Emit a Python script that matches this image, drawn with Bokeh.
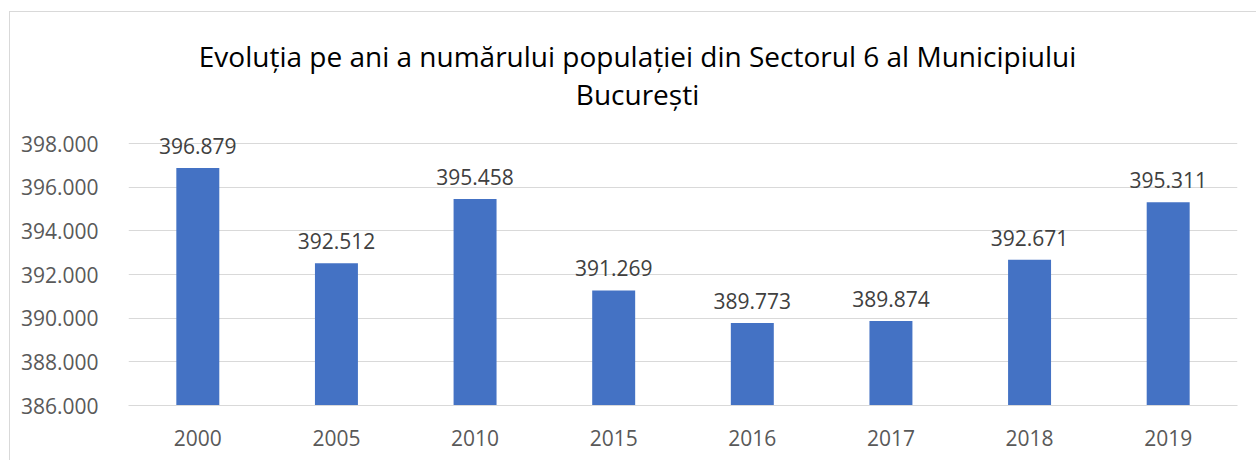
from bokeh.plotting import figure
from bokeh.models import ColumnDataSource, CustomJSTickFormatter, Range1d, LabelSet, Label
from bokeh.core.properties import value
from bokeh.embed import file_html
from bokeh.resources import INLINE

years = ["2000", "2005", "2010", "2015", "2016", "2017", "2018", "2019"]
population = [396879, 392512, 395458, 391269, 389773, 389874, 392671, 395311]
labels = [f"{v/1000:.3f}" for v in population]
y_ticks = [386000, 388000, 390000, 392000, 394000, 396000, 398000]
title_lines = ["Evoluția pe ani a numărului populației din Sectorul 6 al Municipiului",
               "București"]

FONT = "Open Sans"

src = ColumnDataSource(dict(x=years, top=population, label=labels))

# frame extends to the top of the canvas so the title (screen-unit labels) is not clipped;
# only ticks up to 398.000 are drawn
p = figure(x_range=years, y_range=Range1d(386000, 404000),
           width=1247, height=449, output_backend="svg", toolbar_location=None,
           min_border_left=118, min_border_right=20, min_border_top=0, min_border_bottom=56)
p.styles = {"margin-top": "11px", "margin-left": "9px",
            "border-top": "1px solid #d9d9d9", "border-left": "1px solid #d9d9d9"}
p.outline_line_color = None
p.title = None

p.vbar(x="x", top="top", bottom=386000, width=0.31, source=src,
       fill_color="#4472C4", line_color=None)

p.add_layout(LabelSet(x="x", y="top", text="label", source=src, text_align="center",
                      text_baseline="bottom", y_offset=14, text_font=value(FONT),
                      text_font_size="21px", text_color="#404040"))

p.yaxis.ticker = y_ticks
p.yaxis.formatter = CustomJSTickFormatter(code="return (tick/1000).toFixed(3);")
p.yaxis.axis_line_color = None
p.yaxis.major_tick_line_color = None
p.yaxis.minor_tick_line_color = None
p.yaxis.major_label_standoff = 24
p.yaxis.major_label_text_font = FONT
p.yaxis.major_label_text_font_size = "21px"
p.yaxis.major_label_text_color = "#595959"

p.xaxis.axis_line_color = "#d9d9d9"
p.xaxis.major_tick_line_color = None
p.xaxis.minor_tick_line_color = None
p.xaxis.major_label_standoff = 18
p.xaxis.major_label_text_font = FONT
p.xaxis.major_label_text_font_size = "21px"
p.xaxis.major_label_text_color = "#595959"

p.xgrid.grid_line_color = None
p.ygrid.grid_line_color = "#d9d9d9"

for i, line in enumerate(title_lines):
    p.add_layout(Label(x=509, y=350 - 38 * i, x_units="screen", y_units="screen",
                       text=line, text_align="center", text_baseline="middle",
                       text_font=FONT, text_font_size="28px", text_color="#000000"))

open("out.html", "w").write(file_html(p, INLINE))
